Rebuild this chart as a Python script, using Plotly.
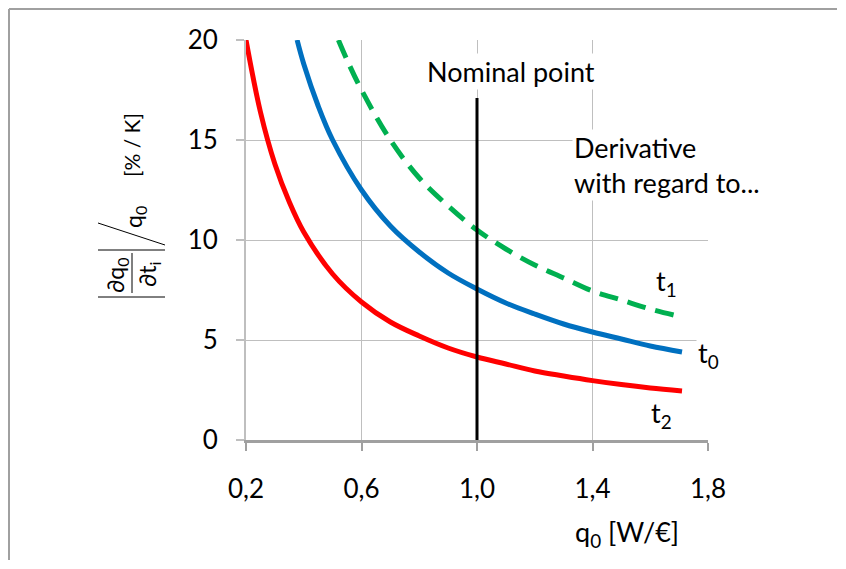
import plotly.graph_objects as go

# ---- data ----
x_t2 = [0.2, 0.25, 0.3, 0.35, 0.4, 0.5, 0.6, 0.7, 0.8, 0.9, 1.0, 1.1, 1.2, 1.3, 1.4, 1.5, 1.6, 1.71]
y_t2 = [20.0, 16.4, 13.8, 11.9, 10.4, 8.3, 6.9, 5.9, 5.2, 4.6, 4.15, 3.8, 3.45, 3.2, 2.97, 2.77, 2.6, 2.45]

x_t0 = [0.377, 0.4, 0.45, 0.5, 0.6, 0.7, 0.8, 0.9, 1.0, 1.1, 1.2, 1.3, 1.4, 1.5, 1.6, 1.71]
y_t0 = [20.0, 18.8, 16.7, 15.0, 12.5, 10.7, 9.4, 8.35, 7.55, 6.85, 6.3, 5.8, 5.4, 5.05, 4.7, 4.4]

x_t1 = [0.52, 0.55, 0.6, 0.7, 0.8, 0.9, 1.0, 1.1, 1.2, 1.3, 1.4, 1.5, 1.6, 1.71]
y_t1 = [20.0, 19.0, 17.5, 15.0, 13.1, 11.7, 10.5, 9.55, 8.75, 8.1, 7.45, 7.0, 6.55, 6.15]

nominal_x = [1.0, 1.0]
nominal_y = [0.0, 17.1]

x_ticks = [0.2, 0.6, 1.0, 1.4, 1.8]
y_ticks = [0, 5, 10, 15, 20]

FONT = "Lato"
fig = go.Figure()

fig.add_trace(go.Scatter(x=x_t2, y=y_t2, mode="lines", line=dict(color="#ff0000", width=5, shape="spline")))
fig.add_trace(go.Scatter(x=x_t0, y=y_t0, mode="lines", line=dict(color="#0070c0", width=5, shape="spline")))
fig.add_trace(go.Scatter(x=x_t1, y=y_t1, mode="lines", line=dict(color="#00b050", width=5, shape="spline", dash="19px,10px")))
fig.add_trace(go.Scatter(x=nominal_x, y=nominal_y, mode="lines", line=dict(color="black", width=3)))

fig.update_layout(
    width=830, height=553,
    margin=dict(l=238, r=130, t=32, b=121),
    paper_bgcolor="white", plot_bgcolor="white",
    showlegend=False,
    separators=",.",
    font=dict(family=FONT, size=26, color="black"),
    xaxis=dict(range=[0.2, 1.8], tickvals=x_ticks, tickformat=".1f",
               showgrid=True, gridcolor="#bfbfbf", gridwidth=1,
               showline=True, linecolor="#a0a0a0", linewidth=3,
               ticks="outside", ticklen=8, tickcolor="#a0a0a0", tickwidth=2,
               ticklabelstandoff=16, zeroline=False, layer="below traces"),
    yaxis=dict(range=[0, 20], tickvals=y_ticks,
               showgrid=True, gridcolor="#bfbfbf", gridwidth=1,
               showline=True, linecolor="#bfbfbf", linewidth=2,
               ticks="outside", ticklen=8, tickcolor="#bfbfbf", tickwidth=2,
               ticklabelstandoff=13, zeroline=False, layer="below traces"),
)

# text labels in the plot
fig.add_annotation(x=1.118, y=18.45, text="Nominal point", showarrow=False,
                   bgcolor="white", font=dict(size=27))
fig.add_annotation(x=1.33, y=13.75, text="Derivative<br>with regard to...", showarrow=False,
                   xanchor="left", align="left", bgcolor="white", font=dict(size=27))
fig.add_annotation(x=1.655, y=7.9, text="t<sub>1</sub>", showarrow=False, font=dict(size=27))
fig.add_annotation(x=1.80, y=4.3, text="t<sub>0</sub>", showarrow=False, bgcolor="white", font=dict(size=27))
fig.add_annotation(x=1.64, y=1.3, text="t<sub>2</sub>", showarrow=False, font=dict(size=27))


def px(xp):
    return (xp - 246) / 462


def py(yp):
    return (440 - yp) / 400


def paper_text(xp, yp, text, size, angle=0):
    fig.add_annotation(xref="paper", yref="paper", x=px(xp), y=py(yp), text=text,
                       textangle=angle, showarrow=False, xanchor="center", yanchor="middle",
                       font=dict(size=size))


# x-axis title
paper_text(627, 533, "q<sub>0</sub> [W/€]", 27)

# y-axis title built from pieces (rotated formula)
paper_text(131, 145, "[% / K]", 21, -90)
paper_text(134, 217, "q<sub>0</sub>", 23, -90)
paper_text(116, 275, "∂q<sub>0</sub>", 23, -90)
paper_text(148, 275, "∂t<sub>i</sub>", 23, -90)
lc = dict(color="black", width=1)
fig.add_shape(type="line", xref="paper", yref="paper", x0=px(98), y0=py(223), x1=px(165), y1=py(245), line=lc)
fig.add_shape(type="line", xref="paper", yref="paper", x0=px(98), y0=py(250), x1=px(165), y1=py(250), line=lc)
fig.add_shape(type="line", xref="paper", yref="paper", x0=px(98), y0=py(297), x1=px(165), y1=py(297), line=lc)
fig.add_shape(type="line", xref="paper", yref="paper", x0=px(132), y0=py(253), x1=px(132), y1=py(293), line=lc)

# outer chart border (top and left visible)
bc = dict(color="#a0a0a0", width=2)
fig.add_shape(type="line", xref="paper", yref="paper", x0=px(9), y0=py(9), x1=px(837), y1=py(9), line=bc)
fig.add_shape(type="line", xref="paper", yref="paper", x0=px(9), y0=py(9), x1=px(9), y1=py(560), line=bc)

fig.write_html("out.html")
